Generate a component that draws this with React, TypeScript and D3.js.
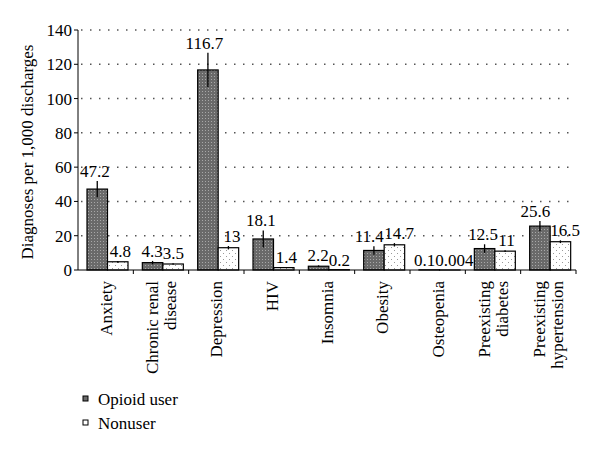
import React from "react";
import * as d3 from "d3";

const categories = [
  ["Anxiety"],
  ["Chronic renal", "disease"],
  ["Depression"],
  ["HIV"],
  ["Insomnia"],
  ["Obesity"],
  ["Osteopenia"],
  ["Preexisting", "diabetes"],
  ["Preexisting", "hypertension"],
];
const opioid = [47.2, 4.3, 116.7, 18.1, 2.2, 11.4, 0.1, 12.5, 25.6];
const nonuser = [4.8, 3.5, 13, 1.4, 0.2, 14.7, 0.004, 11, 16.5];
const opioidErr = [4.7, 1, 10, 5, 0.5, 2.5, 0, 2.5, 3];
const nonuserErr = [0.5, 0.4, 1, 0.3, 0, 1, 0, 0.5, 0.8];
const opioidLabels = ["47.2", "4.3", "116.7", "18.1", "2.2", "11.4", "0.1", "12.5", "25.6"];
const nonuserLabels = ["4.8", "3.5", "13", "1.4", "0.2", "14.7", "0.004", "11", "16.5"];
const yTicks = [0, 20, 40, 60, 80, 100, 120, 140];
const seriesNames = ["Opioid user", "Nonuser"];

const FS = 17;
const FAM = "Times New Roman";
const TS = { fontFamily: `"${FAM}"` };

const left = 78;
const right = 576;
const top = 30;
const bottom = 270;
const bw = 20.5;
const off = 9;

// rough Times width for numeric labels
const textW = (s: string) =>
  s.split("").reduce((w, c) => w + (c === "." ? 0.25 : 0.5), 0) * FS;

const App = () => {
  const x = d3
    .scaleBand<number>()
    .domain(d3.range(categories.length))
    .range([left, right])
    .padding(0);
  const y = d3.scaleLinear().domain([0, 140]).range([bottom, top]);

  const series = [
    { vals: opioid, errs: opioidErr, labels: opioidLabels, fill: "url(#opioidPat)", dx: 0 },
    { vals: nonuser, errs: nonuserErr, labels: nonuserLabels, fill: "url(#nonuserPat)", dx: bw },
  ];

  // label x positions, pushed apart where they would collide
  const labelX = categories.map((_, i) => {
    const xa = (x(i) as number) + off + bw / 2;
    const xb = xa + bw;
    const overlap = xa + textW(opioidLabels[i]) / 2 - (xb - textW(nonuserLabels[i]) / 2);
    return overlap > 0 ? [xa - overlap / 2, xb + overlap / 2] : [xa, xb];
  });

  return (
    <div style={{ margin: -8 }}>
      <svg width={600} height={456}>
        <defs>
          <pattern id="opioidPat" patternUnits="userSpaceOnUse" width={3} height={3}>
            <rect width={3} height={3} fill="#6a6a6a" />
            <rect x={1} y={1} width={1} height={1} fill="#a8a8a8" />
          </pattern>
          <pattern id="nonuserPat" patternUnits="userSpaceOnUse" width={6} height={6}>
            <rect width={6} height={6} fill="#fff" />
            <rect x={1} y={1} width={1} height={1} fill="#999" />
            <rect x={4} y={4} width={1} height={1} fill="#999" />
          </pattern>
        </defs>

        {/* gridlines */}
        {yTicks
          .filter((d) => d > 0)
          .map((d) => (
            <line
              key={d}
              x1={left + 3}
              x2={right}
              y1={y(d)}
              y2={y(d)}
              stroke="#555"
              strokeWidth={1.5}
              strokeDasharray="1.5,7.5"
            />
          ))}

        {/* y axis */}
        <line x1={left} x2={left} y1={top} y2={bottom} stroke="#000" />
        {yTicks.map((d) => (
          <line key={d} x1={left - 4} x2={left} y1={y(d)} y2={y(d)} stroke="#000" />
        ))}
        {yTicks.map((d) => (
          <text
            key={d}
            x={left - 6}
            y={y(d) + 6}
            textAnchor="end"
            fontSize={FS}
            fontFamily={FAM}
            style={TS}
          >
            {String(d)}
          </text>
        ))}
        <text
          transform={`translate(33,${(top + bottom) / 2 + 2}) rotate(-90)`}
          textAnchor="middle"
          fontSize={FS}
          fontFamily={FAM}
          style={TS}
        >
          Diagnoses per 1,000 discharges
        </text>

        {/* bars */}
        {series.map((s, si) =>
          categories.map((_, i) => {
            const bx = (x(i) as number) + off + s.dx;
            return (
              <g key={`${si}-${i}`}>
                <rect
                  x={bx}
                  y={y(s.vals[i])}
                  width={bw}
                  height={bottom - y(s.vals[i])}
                  fill={s.fill}
                  stroke="#000"
                  strokeWidth={1.2}
                />
                {s.errs[i] > 0 && (
                  <line
                    x1={bx + bw / 2}
                    x2={bx + bw / 2}
                    y1={y(s.vals[i] - s.errs[i])}
                    y2={y(s.vals[i] + s.errs[i])}
                    stroke="#000"
                    strokeWidth={1.3}
                  />
                )}
              </g>
            );
          })
        )}
        {series.map((s, si) =>
          categories.map((_, i) => (
            <text
              key={`l${si}-${i}`}
              x={labelX[i][si]}
              y={y(s.vals[i] + s.errs[i]) - 4}
              textAnchor="middle"
              fontSize={FS}
              fontFamily={FAM}
              style={TS}
            >
              {s.labels[i]}
            </text>
          ))
        )}

        {/* x axis */}
        <line x1={left} x2={right} y1={bottom} y2={bottom} stroke="#000" />
        {categories.map((_, i) => (
          <line
            key={i}
            x1={(x(i) as number) + x.bandwidth()}
            x2={(x(i) as number) + x.bandwidth()}
            y1={bottom}
            y2={bottom + 4}
            stroke="#000"
          />
        ))}
        {categories.map((lines, i) => {
          const cx = (x(i) as number) + x.bandwidth() / 2;
          return lines.map((ln, j) => (
            <text
              key={`${i}-${j}`}
              transform={`translate(${cx + (j - (lines.length - 1) / 2) * 18 + 6},${bottom + 11}) rotate(-90)`}
              textAnchor="end"
              fontSize={FS}
              fontFamily={FAM}
              style={TS}
            >
              {ln}
            </text>
          ));
        })}

        {/* legend */}
        {seriesNames.map((d, i) => (
          <rect
            key={d}
            x={83}
            y={396 + i * 24}
            width={5}
            height={5}
            fill={i === 0 ? "#6a6a6a" : "#fff"}
            stroke="#000"
            strokeWidth={1}
          />
        ))}
        {seriesNames.map((d, i) => (
          <text key={d} x={98} y={405 + i * 24} fontSize={FS} fontFamily={FAM} style={TS}>
            {d}
          </text>
        ))}
      </svg>
    </div>
  );
};

export default App;
